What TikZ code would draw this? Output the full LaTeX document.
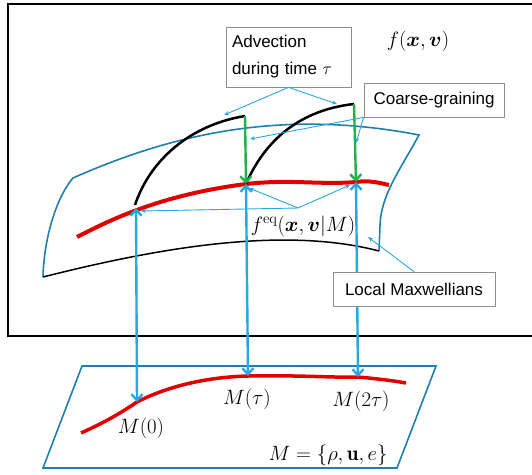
\documentclass[tikz,border=0pt]{standalone}
\usepackage{amsmath,amssymb,bm}
\usepackage{fontspec}
\newfontfamily\boxfont{Liberation Sans}
\usetikzlibrary{arrows.meta}
\definecolor{surfblue}{HTML}{1F7FAF}
\definecolor{linkblue}{HTML}{2AA6E0}
\definecolor{cgreen}{HTML}{22B04A}
\definecolor{cred}{HTML}{E00000}
\tikzset{
  textbox/.style={draw=gray!90, line width=0.8pt, fill=white, font=\boxfont\fontsize{17}{27}\selectfont, inner sep=4pt},
  mathlabel/.style={font=\fontsize{21}{24}\selectfont, inner sep=1pt},
  note/.style={linkblue, line width=0.9pt, -{Stealth[length=5pt,width=4pt]}},
  link/.style={linkblue, line width=2.4pt, {Straight Barb[length=6pt,width=11pt]}-{Straight Barb[length=6pt,width=11pt]}},
  coarse/.style={cgreen, line width=2.4pt, -{Straight Barb[length=6pt,width=11pt]}},
}
\begin{document}
\begin{tikzpicture}[x=1pt,y=-1pt]
\useasboundingbox (0,0) rectangle (532,474);
% frame of the phase space
\draw[line width=2pt] (8,4) rectangle (545,336);
% points on the curves
\path coordinate (U0) at (136,208)
coordinate (U1) at (246,184)
coordinate (U2) at (356,182)
coordinate (A1) at (245,116)
coordinate (A2) at (354,104)
coordinate (L0) at (137,402)
coordinate (L1) at (248,376)
coordinate (L2) at (358,377)
;
% manifold of local Maxwellians
\draw[surfblue, line width=1.6pt] (43,277) .. controls (44,235) and (58,195) .. (73,178)
  .. controls (170,135) and (280,108) .. (419,135)
  .. controls (400,170) and (381,195) .. (380,225) -- (379,251);
\draw[line width=1.5pt] (43,277) .. controls (150,250) and (280,225) .. (379,251);
% red curve f^eq
\draw[cred, line width=4pt] (77,237) .. controls (110,220) and (160,195) .. (U1)
  .. controls (290,179) and (320,185) .. (U2) .. controls (370,180) and (380,183) .. (389,185);
% advection
\draw[line width=2.5pt] (135,205) .. controls (150,160) and (190,125) .. (A1);
\draw[line width=2.5pt] (U1) .. controls (265,140) and (300,110) .. (A2);
\draw[coarse] (A1) -- (U1);
\draw[coarse] (A2) -- (U2);
% parameter plane
\draw[surfblue, line width=1.6pt] (82,366) -- (436,366) -- (397,468) -- (43,468) -- cycle;
\draw[cred, line width=3.5pt] (81,433) .. controls (110,420) and (125,410) .. (L0)
  .. controls (170,385) and (210,377) .. (L1) .. controls (300,375) and (340,378) .. (L2)
  .. controls (380,379) and (395,381) .. (406,383);
\draw[link] (U0) -- (L0);
\draw[link] (U1) -- (L1);
\draw[link] (U2) -- (L2);
% labels
\path node[mathlabel] (fxv) at (418,41) {$f(\bm{x},\bm{v})$}
node[mathlabel] (feq) at (303,226) {$f^{\mathrm{eq}}(\bm{x},\bm{v}|M)$}
node[mathlabel] (M0) at (141,428) {$M(0)$}
node[mathlabel] (M1) at (247,399) {$M(\tau)$}
node[mathlabel] (M2) at (361,401) {$M(2\tau)$}
node[mathlabel] (Mdef) at (328,455) {$M=\{\rho,\mathbf{u},e\}$}
node[textbox, text width=113pt, inner sep=6pt, minimum height=60pt, align=left] (adv) at (288.5,57) {Advection\\during time $\tau$}
node[textbox, minimum width=140pt, minimum height=34pt] (cg) at (434,100) {Coarse-graining}
node[textbox, minimum width=162pt, minimum height=34pt] (lm) at (414,289) {Local Maxwellians}
;
\coordinate (feqtop) at (298,208);
\draw[note] (adv.south) -- (224,115);
\draw[note] (adv.south) -- (337,104);
\draw[note] (cg.south west) -- (250,139);
\draw[note] (cg.south west) -- (356,143);
\draw[note] (feqtop) -- (141,211);
\draw[note] (feqtop) -- (249,188);
\draw[note] (feqtop) -- (350,185);
\draw[note] (lm.north) -- (368,237);
\end{tikzpicture}
\end{document}
